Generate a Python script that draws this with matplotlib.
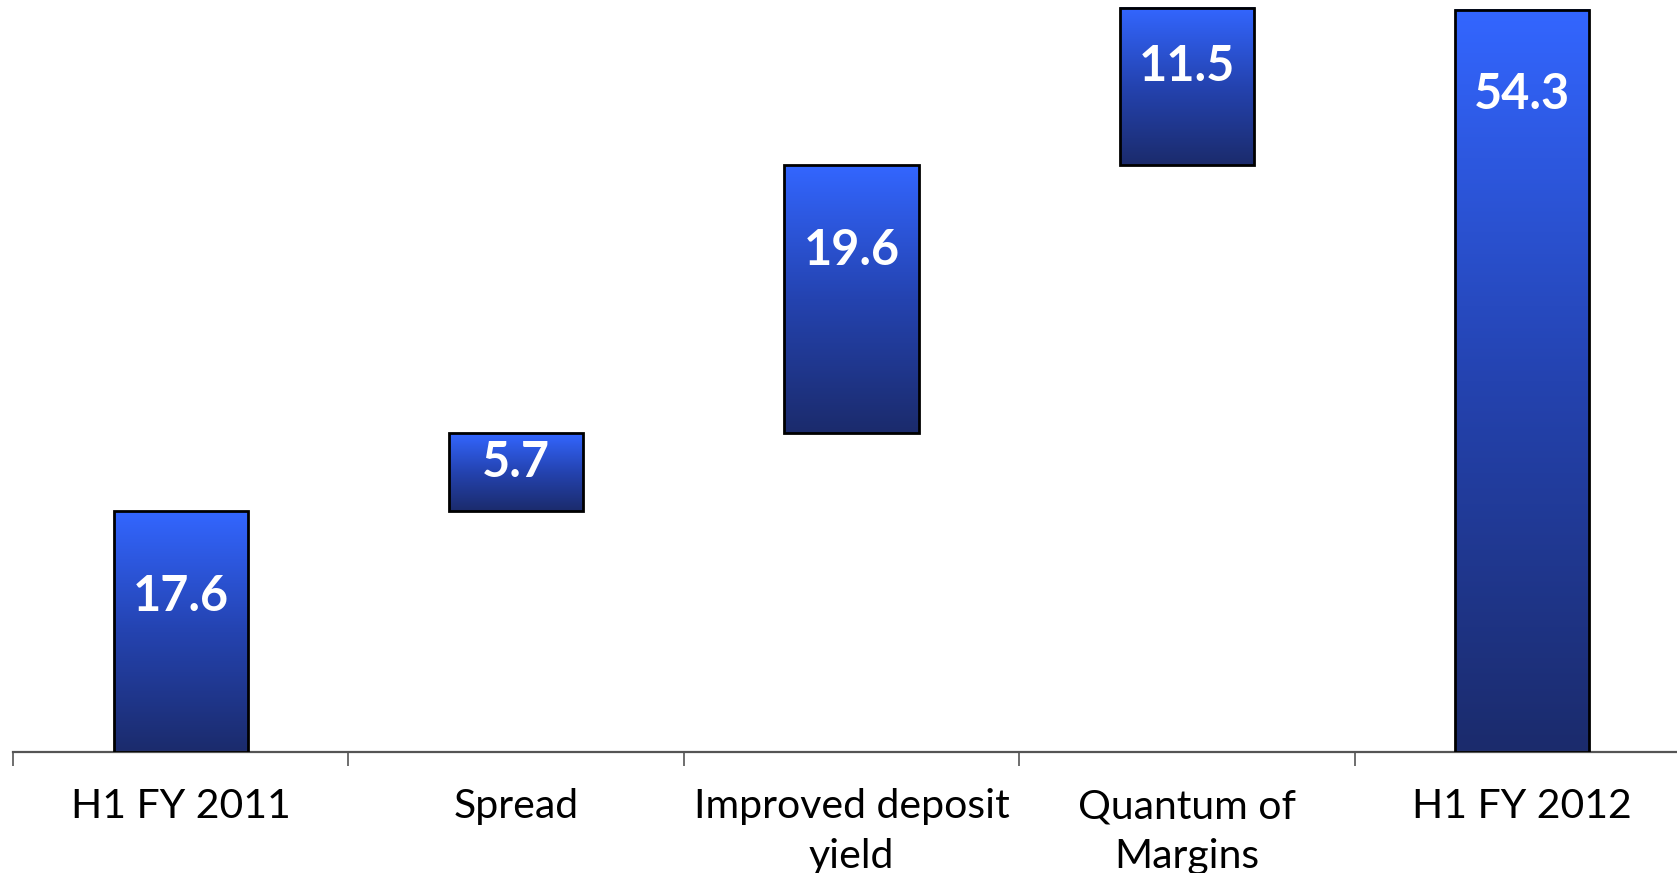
import numpy as np
import matplotlib
matplotlib.use("Agg")
import matplotlib.pyplot as plt
from matplotlib.colors import LinearSegmentedColormap
from matplotlib.patches import Rectangle

# Waterfall of margin drivers (values in crore)
categories = ["H1 FY 2011", "Spread", "Improved deposit\nyield", "Quantum of\nMargins", "H1 FY 2012"]
values = [17.6, 5.7, 19.6, 11.5, 54.3]
is_total = [True, False, False, False, True]

plt.rcParams["font.family"] = ["Lato", "DejaVu Sans"]

fig = plt.figure(figsize=(16.77, 8.73), dpi=100)
ax = fig.add_axes([13 / 1677, 121 / 873, 1677 / 1677, 752 / 873])

grad = LinearSegmentedColormap.from_list("barfade", ["#1b2b6c", "#2443b0", "#3366ff"])
ramp = np.linspace(0, 1, 256).reshape(-1, 1)

bar_w = 0.40
running = 0.0
for i, (v, tot) in enumerate(zip(values, is_total)):
    bottom = 0.0 if tot else running
    top = bottom + v
    running = v if tot else top
    x0 = i - bar_w / 2
    ax.imshow(ramp, cmap=grad, origin="lower", aspect="auto",
              extent=(x0, x0 + bar_w, bottom, top), zorder=2, interpolation="bilinear")
    ax.add_patch(Rectangle((x0, bottom), bar_w, v, fill=False,
                           edgecolor="black", linewidth=2.0, zorder=3))
    label_y = top - min(0.37 * v, 6.2)
    ax.text(i, label_y, f"{v:.1f}", ha="center", va="center", color="white",
            fontsize=35, fontweight="bold", zorder=4)

ax.set_xlim(-0.5, 4.5)
ax.set_ylim(0, 55.0)

for side in ("top", "right", "left"):
    ax.spines[side].set_visible(False)
ax.spines["bottom"].set_color("#555555")
ax.spines["bottom"].set_linewidth(1.6)
ax.set_yticks([])

ax.set_xticks(np.arange(-0.5, 4.6, 1.0))
ax.set_xticklabels([])
ax.tick_params(axis="x", length=10, width=1.2, color="#555555", direction="out")
ax.set_xticks(np.arange(len(categories)), minor=True)
ax.set_xticklabels(categories, minor=True, fontsize=29.5, color="black", linespacing=1.42)
ax.tick_params(axis="x", which="minor", length=0, pad=26)

fig.savefig("out.png", dpi=100)
